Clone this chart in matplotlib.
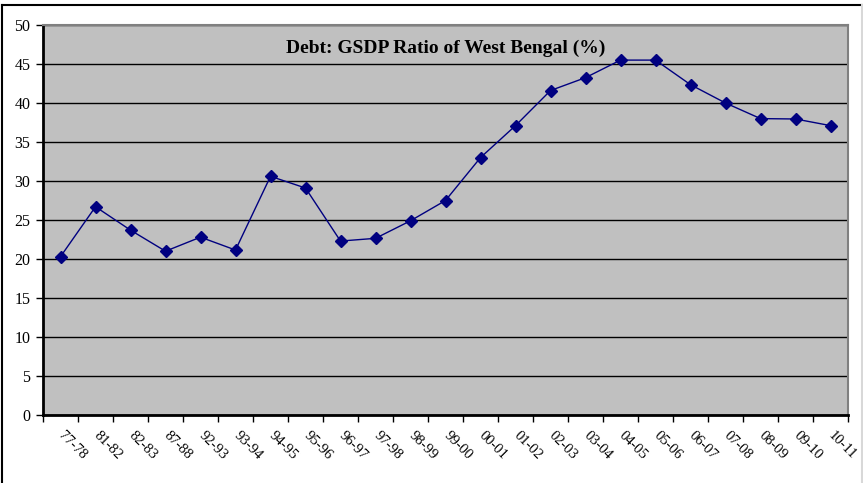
import matplotlib
matplotlib.use("Agg")
import matplotlib.pyplot as plt
from matplotlib.lines import Line2D
from matplotlib.ticker import FixedLocator, NullFormatter

years = ["77-78", "81-82", "82-83", "87-88", "92-93", "93-94", "94-95", "95-96",
         "96-97", "97-98", "98-99", "99-00", "00-01", "01-02", "02-03", "03-04",
         "04-05", "05-06", "06-07", "07-08", "08-09", "09-10", "10-11"]
debt_gsdp = [20.3, 26.7, 23.7, 21.0, 22.8, 21.15, 30.6, 29.1, 22.3, 22.65, 24.9,
             27.5, 33.0, 37.1, 41.6, 43.25, 45.5, 45.5, 42.35, 40.0, 38.0, 37.95, 37.1]
y_ticks = [0, 5, 10, 15, 20, 25, 30, 35, 40, 45, 50]
title = "Debt: GSDP Ratio of West Bengal (%)"

plt.rcParams["font.family"] = ["Liberation Serif", "DejaVu Serif"]

fig = plt.figure(figsize=(8.63, 4.83), dpi=100)
fig.patch.set_facecolor("white")

n = len(years)
ax = fig.add_axes([43 / 863, 68 / 483, 805 / 863, 390 / 483])
ax.set_facecolor("#C0C0C0")

x = list(range(n))
ax.plot(x, debt_gsdp, color="#000080", lw=1.0, marker="D", ms=6,
        markerfacecolor="#000080", markeredgecolor="#000080", zorder=3)

ax.set_xlim(-0.5, n - 0.5)
ax.set_ylim(0, 50)
ax.set_yticks(y_ticks)
ax.yaxis.grid(True, color="black", lw=1.0)
ax.set_axisbelow(True)

# category boundaries carry the tick marks, labels sit at category centres
ax.xaxis.set_major_locator(FixedLocator([i - 0.5 for i in range(n + 1)]))
ax.xaxis.set_major_formatter(NullFormatter())
ax.xaxis.set_minor_locator(FixedLocator(x))
ax.set_xticklabels(years, minor=True)
ax.tick_params(axis="x", which="minor", length=0, pad=13, labelsize=10.5)
ax.tick_params(axis="x", which="major", length=5, width=1.0, direction="out")
ax.tick_params(axis="y", length=5, width=1.0, direction="out", labelsize=11.5, pad=4)
for lbl in ax.get_xticklabels(minor=True):
    lbl.set_rotation(-45)
    lbl.set_ha("left")
    lbl.set_va("center")
    lbl.set_rotation_mode("anchor")

for side in ("left", "bottom"):
    ax.spines[side].set_color("black")
    ax.spines[side].set_linewidth(2.0)
for side in ("top", "right"):
    ax.spines[side].set_color("#808080")
    ax.spines[side].set_linewidth(1.5)

ax.text(0.5, 0.94, title, transform=ax.transAxes, ha="center", va="center",
        fontsize=14, fontweight="bold")

# outer chart border: dark on top and left, light on the right
top_y = 1 - 5 / 483
left_x = 2 / 863
right_x = 862 / 863
fig.add_artist(Line2D([left_x, right_x], [top_y, top_y], transform=fig.transFigure,
                      color="black", lw=1.5))
fig.add_artist(Line2D([left_x, left_x], [0, top_y], transform=fig.transFigure,
                      color="black", lw=1.5))
fig.add_artist(Line2D([right_x, right_x], [0, top_y], transform=fig.transFigure,
                      color="#D8D8D8", lw=1.5))

fig.savefig("out.png", dpi=100)
